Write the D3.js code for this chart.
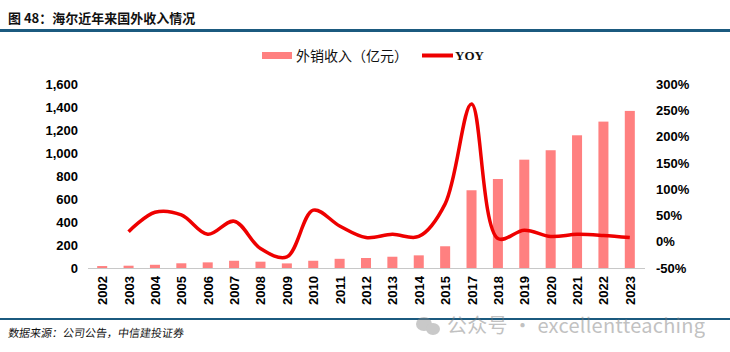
<!DOCTYPE html>
<html>
<head>
<meta charset="utf-8">
<script src="https://cdn.jsdelivr.net/npm/d3@7"></script>
<style>
	body { margin: 0; background: #fff; }
	svg { display: block; }
</style>
</head>
<body>
<svg id="chart" width="730" height="352"></svg>
<script>
// categories (no 2016 in the source)
const years = ["2002", "2003", "2004", "2005", "2006", "2007", "2008", "2009", "2010", "2011", "2012",
	"2013", "2014", "2015", "2017", "2018", "2019", "2020", "2021", "2022", "2023"];

// 外销收入（亿元）
const revenue = [17, 20, 28, 41, 49, 63, 55, 40, 63, 80, 87, 98, 110, 189, 676, 774, 942, 1024, 1154, 1273, 1366];

// YOY in %, 2002 has no value
const yoy = [null, 19, 56, 51, 14, 39, -13, -29, 60, 30, 8, 14, 10, 72, 262, 6, 22, 10, 14, 12, 8];

const leftTicks = [0, 200, 400, 600, 800, 1000, 1200, 1400, 1600];
const rightTicks = [-50, 0, 50, 100, 150, 200, 250, 300];

const svg = d3.select("#chart");
const numFont = "'Liberation Sans', Arial, sans-serif";
const cjkFont = "'Noto Sans CJK SC', sans-serif";

// title + rules
svg.append("text")
	.attr("x", 8).attr("y", 23)
	.style("font-family", cjkFont).style("font-weight", "bold").style("font-size", "13px")
	.attr("fill", "#111")
	.text("图 48：海尔近年来国外收入情况");

svg.append("rect").attr("x", 0).attr("y", 29).attr("width", 730).attr("height", 3).attr("fill", "#1b5a7f");
svg.append("rect").attr("x", 0).attr("y", 318).attr("width", 730).attr("height", 2).attr("fill", "#1b5a7f");

svg.append("text")
	.attr("x", 8).attr("y", 337)
	.style("font-family", cjkFont).style("font-size", "11px")
	.attr("fill", "#111")
	.attr("transform", "skewX(-8) translate(47,0)")
	.text("数据来源：公司公告，中信建投证券");

// scales
const x = d3.scaleBand().domain(years).range([89, 643]).paddingInner(0.62).paddingOuter(0.31);
const yL = d3.scaleLinear().domain([0, 1600]).range([268, 84]);
const yR = d3.scaleLinear().domain([-50, 300]).range([268, 84]);

// baseline
svg.append("line")
	.attr("x1", 88).attr("x2", 645).attr("y1", 268.5).attr("y2", 268.5)
	.attr("stroke", "#c8c8c8").attr("stroke-width", 1);

// left axis
const gl = svg.append("g").attr("transform", "translate(78,0)")
	.call(d3.axisLeft(yL).tickValues(leftTicks).tickFormat(d3.format(",")).tickSize(0).tickPadding(0));
gl.select(".domain").remove();
gl.selectAll("text").style("font-family", numFont).style("font-weight", "bold").style("font-size", "13px").attr("fill", "#000");

// right axis
const gr = svg.append("g").attr("transform", "translate(656,0)")
	.call(d3.axisRight(yR).tickValues(rightTicks).tickFormat(d => d + "%").tickSize(0).tickPadding(0));
gr.select(".domain").remove();
gr.selectAll("text").style("font-family", numFont).style("font-weight", "bold").style("font-size", "13px").attr("fill", "#000");

// x labels, rotated
svg.append("g").selectAll("text").data(years).join("text")
	.attr("transform", d => `translate(${x(d) + x.bandwidth() / 2 + 5},276) rotate(-90)`)
	.attr("text-anchor", "end")
	.style("font-family", numFont).style("font-weight", "bold").style("font-size", "13px")
	.attr("fill", "#000")
	.text(d => d);

// bars
svg.append("g").selectAll("rect").data(years).join("rect")
	.attr("x", d => x(d))
	.attr("width", x.bandwidth())
	.attr("y", (d, i) => yL(revenue[i]))
	.attr("height", (d, i) => yL(0) - yL(revenue[i]))
	.attr("fill", "#ff8080");

// smoothed yoy line
const pts = years.map((d, i) => ({ year: d, v: yoy[i] })).filter(p => p.v !== null);
const line = d3.line()
	.x(p => x(p.year) + x.bandwidth() / 2)
	.y(p => yR(p.v))
	.curve(d3.curveCatmullRom.alpha(0.5));
svg.append("path")
	.attr("d", line(pts))
	.attr("fill", "none")
	.attr("stroke", "#ee0000")
	.attr("stroke-width", 3.5)
	.attr("stroke-linejoin", "round");

// legend
svg.append("rect").attr("x", 262).attr("y", 52).attr("width", 30).attr("height", 7).attr("fill", "#ff8080");
svg.append("text").attr("x", 296).attr("y", 61)
	.style("font-family", cjkFont).style("font-size", "14px").attr("fill", "#111")
	.text("外销收入（亿元）");
svg.append("line").attr("x1", 422).attr("x2", 453).attr("y1", 55.5).attr("y2", 55.5)
	.attr("stroke", "#ee0000").attr("stroke-width", 4);
svg.append("text").attr("x", 455).attr("y", 60)
	.style("font-family", "'Liberation Serif', serif").style("font-weight", "bold").style("font-size", "13px").attr("fill", "#111")
	.text("YOY");

// watermark
const wm = svg.append("g").attr("opacity", 0.45);
wm.append("ellipse").attr("cx", 424).attr("cy", 324).attr("rx", 8).attr("ry", 7).attr("fill", "#888");
wm.append("ellipse").attr("cx", 433).attr("cy", 329).attr("rx", 7).attr("ry", 6).attr("fill", "#888");
wm.append("text").attr("x", 447).attr("y", 333)
	.attr("textLength", 258).attr("lengthAdjust", "spacing")
	.style("font-family", "'Noto Sans CJK SC', 'Noto Sans', sans-serif").style("font-size", "20px")
	.attr("fill", "#777")
	.text("公众号 · excellentteaching");
</script>
</body>
</html>
